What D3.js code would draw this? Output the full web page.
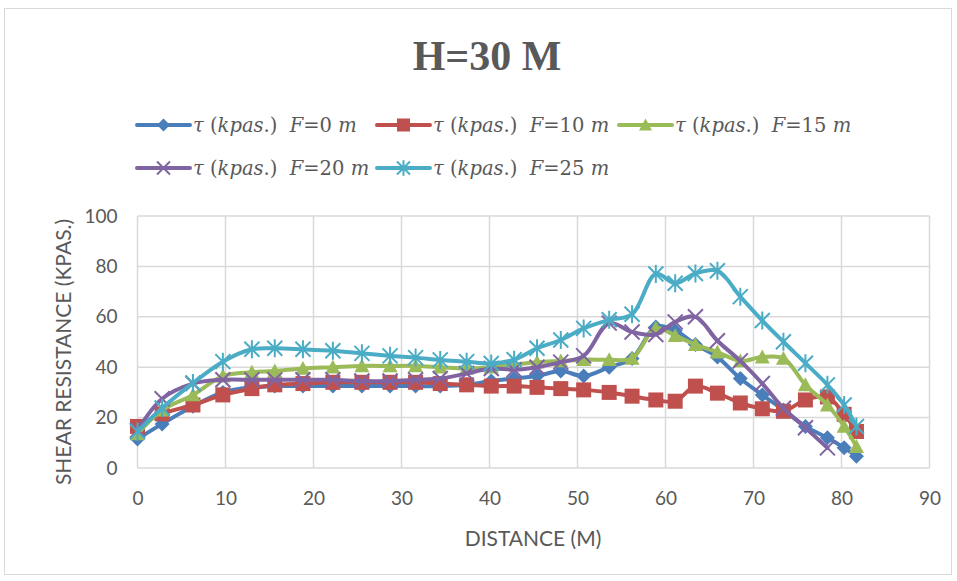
<!DOCTYPE html>
<html><head><meta charset="utf-8">
<script src="https://cdn.jsdelivr.net/npm/d3@7"></script>
<style>body{margin:0;background:#fff}svg{display:block}</style>
</head><body><svg id="c" width="957" height="581"></svg>
<script>
const distance = [0, 2.8, 6.3, 9.7, 13, 15.6, 18.8, 22.2, 25.5, 28.7, 31.6, 34.4, 37.4, 40.2, 42.8, 45.4, 48.1, 50.7, 53.6, 56.2, 58.9, 61.1, 63.4, 65.9, 68.5, 71, 73.4, 75.9, 78.4, 80.3, 81.7];
const tauF0  = [11.5, 17.5, 24.5, 30, 32, 32.5, 32.5, 32.5, 32.5, 32.5, 32.5, 32.5, 33, 34.5, 35.5, 36.5, 38.5, 36.5, 40, 43.5, 56, 54.5, 49, 44, 35.5, 29, 23, 16.5, 12, 8, 4.7];
const tauF10 = [16.5, 21.5, 25, 29, 31.5, 33, 33.5, 34, 34, 34, 34, 33.5, 33, 32.5, 32.5, 32, 31.5, 31, 30, 28.5, 27, 26.5, 32.5, 29.7, 25.8, 23.5, 22.5, 27, 28.2, 21.3, 14.5];
const tauF15 = [13.5, 23, 29, 36.5, 38, 38.5, 39.5, 40, 40.5, 40.5, 40.5, 40, 39.5, 40, 41, 42, 42.5, 43, 43, 43.5, 55.5, 52.5, 49, 46, 42.5, 44, 43.5, 33, 25, 16.5, 8.5];
const tauF20 = [15, 27.5, 33.5, 35, 35, 35, 35, 35, 34.5, 34.5, 35, 35.5, 37.5, 39.5, 39, 40, 42, 44.5, 57.5, 54, 53, 58, 60, 50.5, 42.5, 33.5, 23.7, 16, 8];
const tauF25 = [14.5, 23.8, 33.7, 42.2, 47.1, 47.5, 47.1, 46.5, 45.5, 44.5, 43.8, 42.9, 42.2, 41.5, 43, 47.5, 50.8, 55.4, 58.8, 61, 77, 73.3, 77.2, 78.3, 68, 58.5, 50.1, 41.6, 33, 25, 16.5];
const seriesF = ["0", "10", "15", "20", "25"];
const xTicks = [0, 10, 20, 30, 40, 50, 60, 70, 80, 90];
const yTicks = [0, 20, 40, 60, 80, 100];
const titleText = "H=30 M";
const xTitle = "DISTANCE (M)";
const yTitle = "SHEAR RESISTANCE (KPAS.)";

const colors = ["#4A7EBB", "#C0504D", "#9BBB59", "#8064A2", "#4BACC6"];
const markers = ["diamond", "square", "triangle", "x", "star"];
const values = [tauF0, tauF10, tauF15, tauF20, tauF25];

const svg = d3.select("#c");
svg.append("rect").attr("x", 4.5).attr("y", 8.5).attr("width", 947).attr("height", 566)
  .attr("fill", "#fff").attr("stroke", "#d9d9d9").attr("stroke-width", 1);

const x = d3.scaleLinear().domain([0, 90]).range([137.5, 929.5]);
const y = d3.scaleLinear().domain([0, 100]).range([468, 216]);
const textCol = "#595959";

// title
svg.append("text").attr("x", 487).attr("y", 70).attr("text-anchor", "middle")
  .attr("font-family", "Liberation Serif, Times New Roman, serif").attr("font-weight", "bold")
  .attr("font-size", 42).attr("fill", textCol).text(titleText);

// grid
const g = svg.append("g");
g.selectAll("line.h").data(yTicks).join("line")
  .attr("x1", x(0)).attr("x2", x(90)).attr("y1", d => y(d)).attr("y2", d => y(d))
  .attr("stroke", "#d9d9d9").attr("stroke-width", 1.5);
g.selectAll("line.v").data(xTicks).join("line")
  .attr("y1", y(0)).attr("y2", y(100)).attr("x1", d => x(d)).attr("x2", d => x(d))
  .attr("stroke", "#d9d9d9").attr("stroke-width", 1.5);

// axes with d3 axis generators (labels only)
const yAxis = svg.append("g").attr("transform", `translate(${x(0)},0)`)
  .call(d3.axisLeft(y).tickValues(yTicks).tickSize(0).tickPadding(20));
const xAxis = svg.append("g").attr("transform", `translate(0,${y(0)})`)
  .call(d3.axisBottom(x).tickValues(xTicks).tickSize(0).tickPadding(24));
[xAxis, yAxis].forEach(a => {
  a.select(".domain").remove();
  a.selectAll("text").attr("font-family", "Lato, Calibri, sans-serif").attr("font-size", 19).attr("fill", textCol);
});

svg.append("text").attr("x", 533).attr("y", 546).attr("text-anchor", "middle")
  .attr("font-family", "Lato, Calibri, sans-serif").attr("font-size", 21).attr("fill", textCol).text(xTitle);
svg.append("text").attr("transform", "translate(71,352) rotate(-90)").attr("text-anchor", "middle")
  .attr("font-family", "Lato, Calibri, sans-serif").attr("font-size", 21).attr("fill", textCol).text(yTitle);

function drawMarker(sel, type, color, s) {
  const h = s / 2;
  if (type === "diamond") {
    sel.append("path").attr("d", `M0,${-h}L${h},0L0,${h}L${-h},0Z`).attr("fill", color);
  } else if (type === "square") {
    sel.append("rect").attr("x", -h).attr("y", -h).attr("width", s).attr("height", s).attr("fill", color);
  } else if (type === "triangle") {
    sel.append("path").attr("d", `M0,${-h}L${h},${h*0.85}L${-h},${h*0.85}Z`).attr("fill", color);
  } else if (type === "x") {
    sel.append("path").attr("d", `M${-h},${-h}L${h},${h}M${-h},${h}L${h},${-h}`)
      .attr("stroke", color).attr("stroke-width", 2).attr("fill", "none");
  } else {
    sel.append("path").attr("d", `M${-h},${-h}L${h},${h}M${-h},${h}L${h},${-h}M0,${-h*1.2}L0,${h*1.2}`)
      .attr("stroke", color).attr("stroke-width", 2).attr("fill", "none");
  }
}

const line = d3.line().x(d => x(d[0])).y(d => y(d[1])).curve(d3.curveCatmullRom.alpha(0.5));
const plot = svg.append("g");
values.forEach((vals, i) => {
  const pts = vals.map((v, j) => [distance[j], v]);
  const sg = plot.append("g");
  sg.append("path").attr("d", line(pts)).attr("fill", "none")
    .attr("stroke", colors[i]).attr("stroke-width", 4).attr("stroke-linejoin", "round").attr("stroke-linecap", "round");
  pts.forEach(p => {
    const m = sg.append("g").attr("transform", `translate(${x(p[0])},${y(p[1])})`);
    drawMarker(m, markers[i], colors[i], 15);
  });
});

// legend
const legPos = [[137, 125], [377, 125], [619, 125], [137, 168], [377, 168]];
seriesF.forEach((f, i) => {
  const [lx, ly] = legPos[i];
  const lg = svg.append("g").attr("transform", `translate(${lx},${ly})`);
  lg.append("line").attr("x1", 0).attr("x2", 53).attr("y1", 0).attr("y2", 0)
    .attr("stroke", colors[i]).attr("stroke-width", 4).attr("stroke-linecap", "round");
  const m = lg.append("g").attr("transform", "translate(26.5,0)");
  drawMarker(m, markers[i], colors[i], 13);
  const t = lg.append("text").attr("x", 56).attr("y", 7).attr("font-family", "DejaVu Serif, Cambria, serif")
    .attr("font-size", 19.5).attr("fill", textCol).style("white-space", "pre");
  t.append("tspan").attr("font-style", "italic").text("τ");
  t.append("tspan").text(" (");
  t.append("tspan").attr("font-style", "italic").text("kpas");
  t.append("tspan").text(".)  ");
  t.append("tspan").attr("font-style", "italic").text("F");
  t.append("tspan").text("=" + f + " ");
  t.append("tspan").attr("font-style", "italic").text("m");
});
</script></body></html>
